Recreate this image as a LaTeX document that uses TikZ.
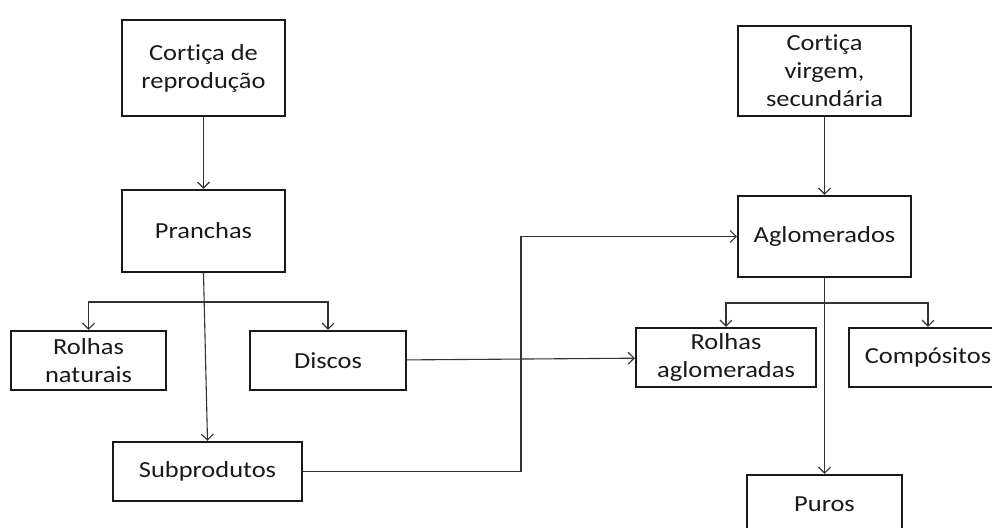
\documentclass[tikz,border=0pt]{standalone}
\usepackage{fontspec}
\setmainfont{Carlito}[FakeStretch=1.15, Ligatures=NoCommon]
\usetikzlibrary{arrows.meta, positioning}
\definecolor{boxBlack}{gray}{0.1}
\definecolor{lineGray}{gray}{0.2}

\begin{document}
\begin{tikzpicture}[x=1pt, y=-1pt,
    box/.style={draw=boxBlack, line width=2.4pt, align=center, inner sep=0pt,
        font=\fontsize{23}{28}\selectfont, text=boxBlack},
    conn/.style={draw=lineGray, line width=1.1pt, -{Straight Barb[length=6pt,width=12pt]}}]
    \useasboundingbox (0,0) rectangle (992,527);

    % left branch: cortica de reproducao
    \node[box, minimum width=163, minimum height=96] (cortRep) at (203.5, 68) {Cortiça de\\reprodução};
    \node[box, minimum width=163, minimum height=82] (pranchas) at (203.5, 231) {Pranchas};
    \node[box, minimum width=155, minimum height=59] (rolhasNat) at (88.5, 360.5) {Rolhas\\naturais};
    \node[box, minimum width=156, minimum height=59] (discos) at (328, 360.5) {Discos};
    \node[box, minimum width=189, minimum height=59] (subprodutos) at (207.5, 471.5) {Subprodutos};

    % right branch: cortica virgem
    \node[box, minimum width=173, minimum height=90] (cortVirg) at (824.5, 71) {Cortiça\\virgem,\\secundária};
    \node[box, minimum width=173, minimum height=81] (aglom) at (824.5, 236.5) {Aglomerados};
    \node[box, minimum width=180, minimum height=59] (rolhasAgl) at (726, 357.5) {Rolhas\\aglomeradas};
    \node[box, minimum width=158, minimum height=59] (compositos) at (928, 357.5) {Compósitos};
    \node[box, minimum width=155, minimum height=59] (puros) at (824.5, 504.5) {Puros};

    \coordinate (forkL) at (0, 302);
    \coordinate (forkR) at (0, 303);
    \coordinate (bend) at (521, 0);

    \draw[conn] (cortRep) -- (pranchas);
    \draw[conn] (pranchas.south |- forkL) -| (rolhasNat.north);
    \draw[conn] (pranchas.south |- forkL) -| (discos.north);
    \draw[conn] (pranchas.south) -- (subprodutos.north);

    \draw[conn] (cortVirg) -- (aglom);
    \draw[conn] (aglom.south |- forkR) -| (rolhasAgl.north);
    \draw[conn] (aglom.south |- forkR) -| (compositos.north);
    \draw[conn] (aglom.south) -- (puros.north);

    \draw[conn] (discos) -- (rolhasAgl);
    \draw[conn] (subprodutos.east) -- (bend |- subprodutos.east) -- (bend |- aglom.west) -- (aglom.west);
\end{tikzpicture}
\end{document}
